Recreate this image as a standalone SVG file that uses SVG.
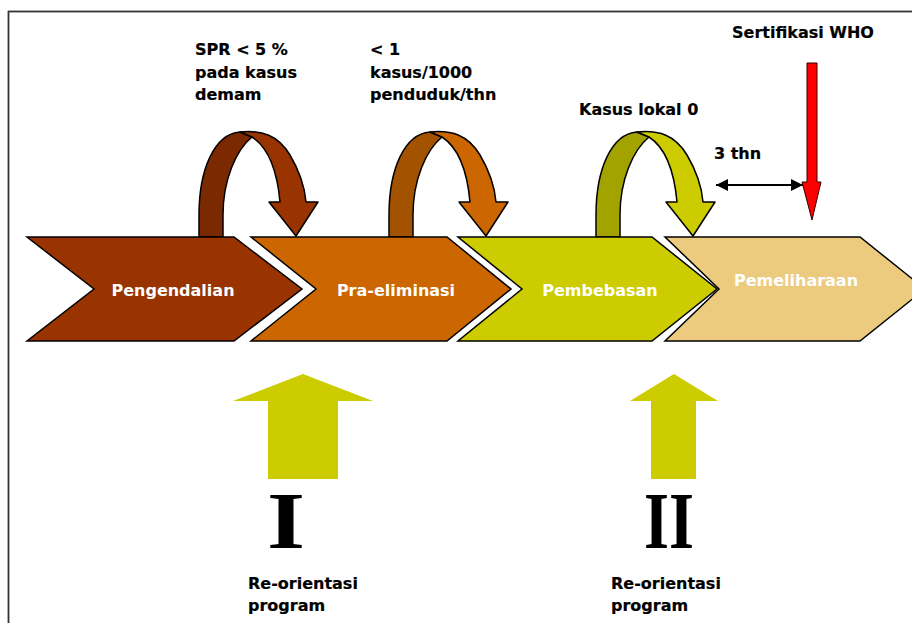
<svg xmlns="http://www.w3.org/2000/svg" width="912" height="623" viewBox="0 0 912 623">
<style>
.lbl{font-family:"DejaVu Sans","Liberation Sans",sans-serif;font-weight:bold;font-size:16px;fill:#000;stroke:#000;stroke-width:0.2}
.chv{stroke:#000;stroke-width:1.5;stroke-linejoin:miter}
.ctx{font-family:"DejaVu Sans","Liberation Sans",sans-serif;font-weight:bold;font-size:16px;fill:#fff;text-anchor:middle}
.rom{font-family:"Liberation Serif","Times New Roman",serif;font-weight:bold;font-size:80px;fill:#000;text-anchor:middle}
.cur{stroke:#000;stroke-width:1.5;stroke-linejoin:round}
.up{fill:#CCCC00;stroke:none}
</style>
<defs>
<marker id="ah" viewBox="0 0 12 12" refX="12" refY="6" markerWidth="13" markerHeight="12" markerUnits="userSpaceOnUse" orient="auto-start-reverse">
<path d="M0,0 L12,6 L0,12 Z" fill="#000"/>
</marker>
</defs>
<rect x="8.5" y="11.5" width="1000" height="1000" fill="#fff" stroke="#333" stroke-width="1.8"/>

<g id="connectors">
<g id="uturn1"><path class="cur" fill="#7A2900" d="M199,237 L199,215 C199,170 214,134 240,132 L252,137 C236,150 223,180 223,215 L223,237 Z"/><path class="cur" fill="#993300" d="M240,132 C262,130 278,135 290,155 C300,172 305,190 306,202 L318,202 L296,236 L269,202 L280,202 C278,180 272,150 252,137 Z"/></g>
<g id="uturn2" transform="translate(190,0)"><path class="cur" fill="#A35200" d="M199,237 L199,215 C199,170 214,134 240,132 L252,137 C236,150 223,180 223,215 L223,237 Z"/><path class="cur" fill="#CC6600" d="M240,132 C262,130 278,135 290,155 C300,172 305,190 306,202 L318,202 L296,236 L269,202 L280,202 C278,180 272,150 252,137 Z"/></g>
<g id="uturn3" transform="translate(397,0)"><path class="cur" fill="#A3A300" d="M199,237 L199,215 C199,170 214,134 240,132 L252,137 C236,150 223,180 223,215 L223,237 Z"/><path class="cur" fill="#CCCC00" d="M240,132 C262,130 278,135 290,155 C300,172 305,190 306,202 L318,202 L296,236 L269,202 L280,202 C278,180 272,150 252,137 Z"/></g>
<line x1="716" y1="185" x2="803" y2="185" stroke="#000" stroke-width="2" marker-start="url(#ah)" marker-end="url(#ah)"/>
<path id="who-arrow" d="M807,63 L817,63 L817,182 L821,182 L812,220 L802,182 L807,182 Z" fill="#FF0000" stroke="#330000" stroke-width="1"/>
<path id="up1" class="up" d="M303,374 L373,401 L338,401 L338,479 L268,479 L268,401 L233,401 Z"/>
<path id="up2" class="up" d="M674,374 L718,401 L696,401 L696,479 L651,479 L651,401 L630,401 Z"/>
</g>

<g id="pengendalian">
<path class="chv" fill="#993300" d="M27,237 L234,237 L302,289 L234,341 L27,341 L94,289 Z"/>
<text class="ctx" x="173" y="296">Pengendalian</text>
</g>
<g id="pra-eliminasi">
<path class="chv" fill="#CC6600" d="M251,237 L447,237 L511,289 L447,341 L251,341 L316,289 Z"/>
<text class="ctx" x="396" y="296">Pra-eliminasi</text>
</g>
<g id="pembebasan">
<path class="chv" fill="#CCCC00" d="M458,237 L652,237 L717,289 L652,341 L458,341 L522,289 Z"/>
<text class="ctx" x="600" y="296">Pembebasan</text>
</g>
<g id="pemeliharaan">
<path class="chv" fill="#EDCB7E" d="M665,237 L860,237 L925,289 L860,341 L665,341 L719,289 Z"/>
<text class="ctx" x="796" y="286">Pemeliharaan</text>
</g>

<g id="labels">
<text class="lbl" x="195" y="55">SPR &lt; 5 %</text>
<text class="lbl" x="195" y="77.5">pada kasus</text>
<text class="lbl" x="195" y="100">demam</text>
<text class="lbl" x="370" y="55">&lt; 1</text>
<text class="lbl" x="370" y="77.5">kasus/1000</text>
<text class="lbl" x="370" y="100">penduduk/thn</text>
<text class="lbl" x="579" y="115">Kasus lokal 0</text>
<text class="lbl" x="732" y="38">Sertifikasi WHO</text>
<text class="lbl" x="714" y="159">3 thn</text>
<text class="rom" x="286" y="548" textLength="38" lengthAdjust="spacingAndGlyphs">I</text>
<text class="rom" x="669" y="548" textLength="50" lengthAdjust="spacingAndGlyphs">II</text>
<text class="lbl" x="248" y="589">Re-orientasi</text>
<text class="lbl" x="248" y="611">program</text>
<text class="lbl" x="611" y="589">Re-orientasi</text>
<text class="lbl" x="611" y="611">program</text>
</g>
</svg>
